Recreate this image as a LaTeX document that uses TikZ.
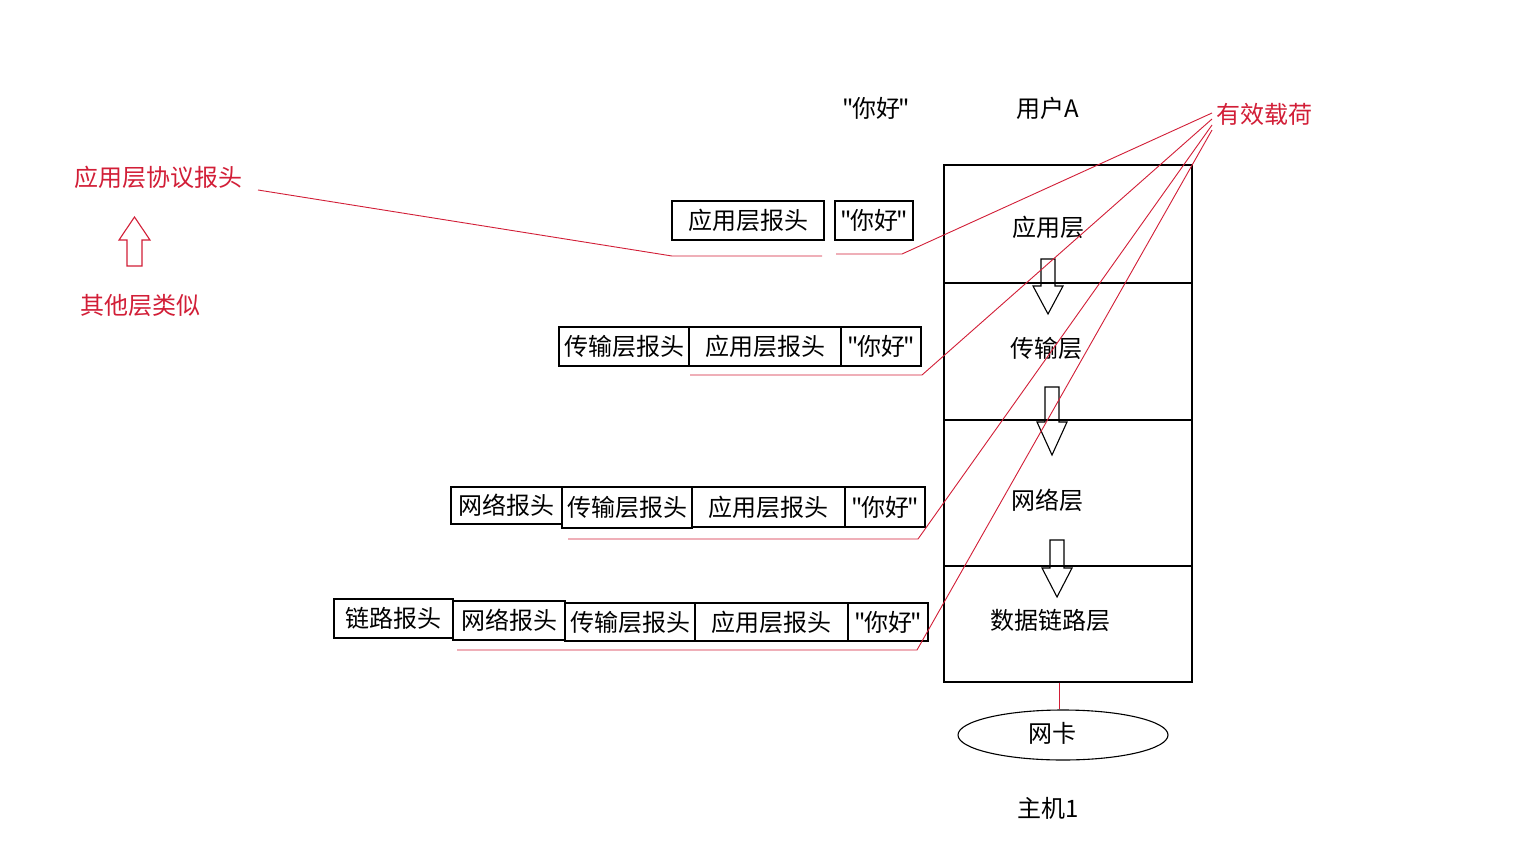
\documentclass[tikz,border=0pt]{standalone}
\usepackage{fontspec}
\newfontfamily\cjk{Noto Sans CJK SC}
\usetikzlibrary{shapes.geometric}
\definecolor{myred}{RGB}{210,30,55}

\begin{document}
\begin{tikzpicture}[x=1pt,y=-1pt]

	\tikzset{mytext/.style={inner sep=0pt, font=\cjk\fontsize{24}{28}\selectfont}}
	\tikzset{myredtext/.style={mytext, text=myred}}
	\tikzset{mybox/.style={mytext, draw, line width=1.2pt, minimum height=39pt}}
	\tikzset{mylayer/.style={draw, line width=1.2pt, minimum width=248pt, inner sep=0pt}}
	\tikzset{myredline/.style={myred, line width=0.9pt}}
	\tikzset{myhollow/.style={line width=1.1pt}}

	\def\hi{"\kern-2pt 你好\kern-2pt"}

	% canvas
	\fill[white] (0,0) rectangle (1539,857);
	\useasboundingbox (0,0) rectangle (1539,857);

	% host stack
	\node[mylayer, minimum height=118pt] (app) at (1068,224) {};
	\node[mylayer, minimum height=137pt] (trans) at (1068,351.5) {};
	\node[mylayer, minimum height=146pt] (net) at (1068,493) {};
	\node[mylayer, minimum height=116pt] (link) at (1068,624) {};

	\node[mytext] (applbl) at (1048,227) {应用层};
	\node[mytext] (translbl) at (1046,348) {传输层};
	\node[mytext] (netlbl) at (1047,500) {网络层};
	\node[mytext] (linklbl) at (1050,620) {数据链路层};

	% hollow arrows between layers
	\foreach \xa/\ya/\yb/\yc in {1048/259/286/314, 1052/387/422/455, 1057/540/568/597}
	{
		\draw[myhollow] (\xa-7,\ya) -- (\xa+7,\ya) -- (\xa+7,\yb) -- (\xa+15,\yb)
		-- (\xa,\yc) -- (\xa-15,\yb) -- (\xa-7,\yb) -- cycle;
	}

	% network card
	\node[ellipse, draw, line width=1.1pt, minimum width=210pt, minimum height=50pt, inner sep=0pt] (nic) at (1063,735) {};
	\node[mytext] (niclbl) at (1052,733) {网卡};
	\draw[myredline] (link.south -| 1059,0) -- (nic.north -| 1059,0);

	\node[mytext] (host) at (1048,808) {主机1};
	\node[mytext] (user) at (1048,108) {用户A};
	\node[mytext] (msg) at (876,108) {\hi};

	% encapsulated data
	\node[mybox, minimum width=152pt] (r1app) at (748,220.5) {应用层报头};
	\node[mybox, minimum width=78pt] (r1hi) at (874,220.5) {\hi};

	\node[mybox, minimum width=130pt] (r2trans) at (624,346.5) {传输层报头};
	\node[mybox, minimum width=152pt] (r2app) at (765,346.5) {应用层报头};
	\node[mybox, minimum width=80pt] (r2hi) at (881,346.5) {\hi};

	\node[mybox, minimum width=111pt, minimum height=37pt] (r3net) at (506.5,505.5) {网络报头};
	\node[mybox, minimum width=130pt, minimum height=41pt] (r3trans) at (627,507.5) {传输层报头};
	\node[mybox, minimum width=153pt, minimum height=40pt] (r3app) at (768.5,507) {应用层报头};
	\node[mybox, minimum width=80pt, minimum height=40pt] (r3hi) at (885,507) {\hi};

	\node[mybox, minimum width=119pt] (r4link) at (393.5,618.5) {链路报头};
	\node[mybox, minimum width=112pt] (r4net) at (509,620.5) {网络报头};
	\node[mybox, minimum width=130pt, minimum height=38pt] (r4trans) at (630,622) {传输层报头};
	\node[mybox, minimum width=153pt, minimum height=38pt] (r4app) at (771.5,622) {应用层报头};
	\node[mybox, minimum width=80pt, minimum height=38pt] (r4hi) at (888,622) {\hi};

	% red notes
	\node[myredtext] (payload) at (1264,114) {有效载荷};
	\node[myredtext] (hdr) at (158,177) {应用层协议报头};
	\node[myredtext] (other) at (140,305) {其他层类似};
	\draw[myred, line width=1.1pt] (127,266) -- (142,266) -- (142,240) -- (150,240)
	-- (134.5,217) -- (119,240) -- (127,240) -- cycle;

	\coordinate (hdrend) at (258,190);
	\coordinate (pay1) at (1212,113);
	\coordinate (pay2) at (1212,119);
	\coordinate (pay3) at (1212,125);
	\coordinate (pay4) at (1212,130);

	\coordinate (u1a) at (672,256);
	\coordinate (u1b) at (822,256);
	\coordinate (u1c) at (836,254);
	\coordinate (u1d) at (902,254);
	\coordinate (u2a) at (690,375);
	\coordinate (u2b) at (922,375);
	\coordinate (u3a) at (568,539);
	\coordinate (u3b) at (918,539);
	\coordinate (u4a) at (457,650);
	\coordinate (u4b) at (917,650);

	\draw[myredline] (hdrend) -- (u1a) -- (u1b);
	\draw[myredline] (u1c) -- (u1d) -- (pay1);
	\draw[myredline] (u2a) -- (u2b) -- (pay2);
	\draw[myredline] (u3a) -- (u3b) -- (pay3);
	\draw[myredline] (u4a) -- (u4b) -- (pay4);

\end{tikzpicture}
\end{document}
